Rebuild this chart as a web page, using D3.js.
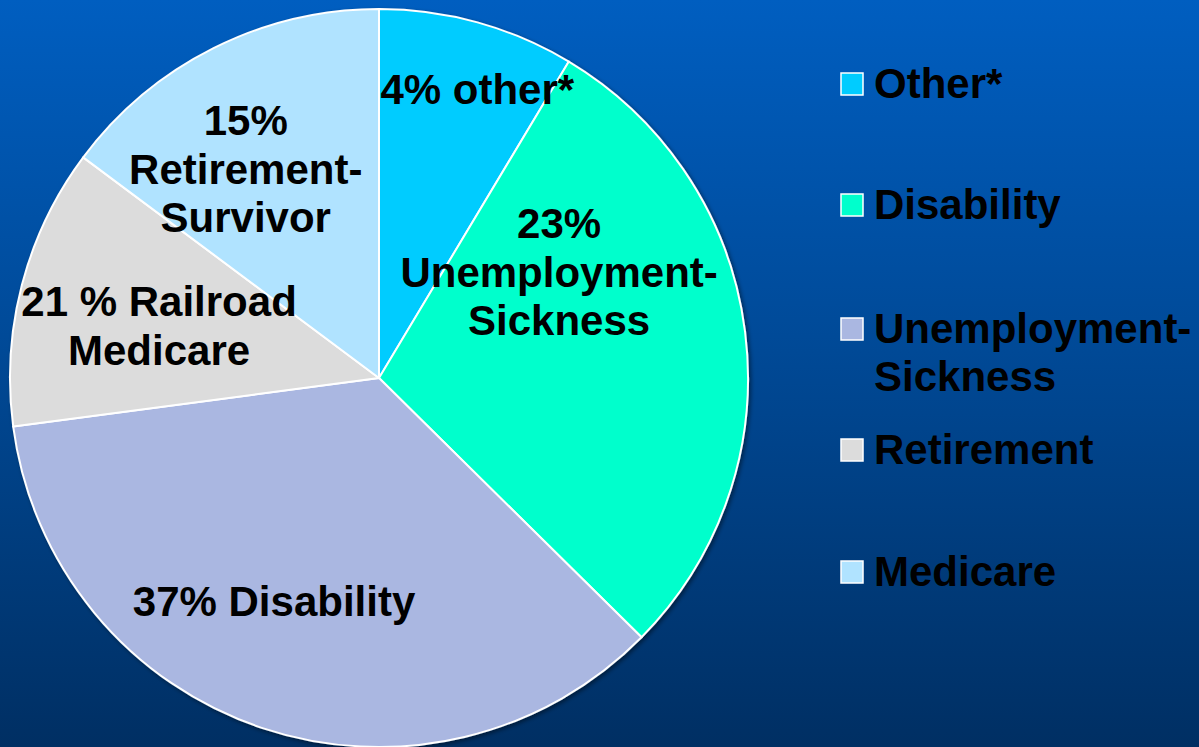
<!DOCTYPE html>
<html>
<head>
<meta charset="utf-8">
<script src="https://cdn.jsdelivr.net/npm/d3@7"></script>
<style>
  html, body { margin: 0; padding: 0; overflow: hidden; }
  svg { display: block; }
  text { font-family: "Liberation Sans", Arial, sans-serif; font-weight: bold; fill: #000; }
</style>
</head>
<body>
<svg id="chart"></svg>
<script>
// data (shares of the pie, clockwise from 12 o'clock)
const categories = ["Other*", "Disability", "Unemployment-Sickness", "Retirement", "Medicare"];
const values = [8.6, 28.8, 35.5, 12.3, 14.8];
const sliceLabels = [
  ["4% other*"],
  ["23%", "Unemployment-", "Sickness"],
  ["37% Disability"],
  ["21 % Railroad", "Medicare"],
  ["15%", "Retirement-", "Survivor"]
];
const legendLabels = [["Other*"], ["Disability"], ["Unemployment-", "Sickness"], ["Retirement"], ["Medicare"]];
const colors = ["#00CCFF", "#00FFCC", "#AAB7E1", "#DCDCDC", "#B0E3FF"];

const W = 1199, H = 747;
const cx = 379, cy = 378, radius = 369;

// where the text blocks sit: angle (deg, clockwise from top) and distance from centre
const labelPlace = [[18.8, 305], [59.5, 209], [205.2, 246.5], [283.3, 226], [327.5, 248]];
const lineH = 48.5;

const svg = d3.select("#chart").attr("width", W).attr("height", H);

const defs = svg.append("defs");
const grad = defs.append("linearGradient")
    .attr("id", "bg").attr("x1", 0).attr("y1", 0).attr("x2", 0).attr("y2", 1);
grad.append("stop").attr("offset", "0%").attr("stop-color", "#005EC0");
grad.append("stop").attr("offset", "45%").attr("stop-color", "#004A98");
grad.append("stop").attr("offset", "100%").attr("stop-color", "#002F63");

const shadow = defs.append("filter").attr("id", "shadow")
    .attr("x", "-10%").attr("y", "-10%").attr("width", "120%").attr("height", "120%");
shadow.append("feDropShadow").attr("dx", 2).attr("dy", 2).attr("stdDeviation", 2)
    .attr("flood-color", "#000").attr("flood-opacity", 0.45);

svg.append("rect").attr("width", W).attr("height", H).attr("fill", "url(#bg)");

const pie = d3.pie().sort(null).value(d => d)(values);
const arc = d3.arc().innerRadius(0).outerRadius(radius);

const g = svg.append("g").attr("transform", `translate(${cx},${cy})`);

g.append("g").attr("filter", "url(#shadow)")
  .selectAll("path")
  .data(pie)
  .enter().append("path")
    .attr("d", arc)
    .attr("fill", (d, i) => colors[i])
    .attr("stroke", "#fff")
    .attr("stroke-width", 2)
    .attr("stroke-linejoin", "round");

// labels in the slices
const labels = g.selectAll(".slice-label")
  .data(pie)
  .enter().append("text")
    .attr("class", "slice-label")
    .attr("text-anchor", "middle")
    .style("font-size", "42px")
    .attr("transform", (d, i) => {
      const a = labelPlace[i][0] * Math.PI / 180, r = labelPlace[i][1];
      return `translate(${r * Math.sin(a)},${-r * Math.cos(a)})`;
    });

labels.each(function(d, i) {
  const lines = sliceLabels[i];
  const top = -(lines.length - 1) * lineH / 2;
  d3.select(this).selectAll("tspan")
    .data(lines)
    .enter().append("tspan")
      .attr("x", 0)
      .attr("y", (t, j) => top + j * lineH)
      .attr("dy", "0.35em")
      .text(t => t);
});

// legend
const legendY = [84, 205, 329, 450, 572];
const legend = svg.append("g")
  .selectAll(".legend")
  .data(categories)
  .enter().append("g")
    .attr("class", "legend")
    .attr("transform", (d, i) => `translate(841,${legendY[i]})`);

legend.append("rect")
    .attr("x", 0).attr("y", -11)
    .attr("width", 22).attr("height", 22)
    .attr("fill", (d, i) => colors[i])
    .attr("stroke", "#fff")
    .attr("stroke-width", 1.5);

legend.append("text")
    .style("font-size", "42px")
    .each(function(d, i) {
      d3.select(this).selectAll("tspan")
        .data(legendLabels[i])
        .enter().append("tspan")
          .attr("x", 33)
          .attr("y", (t, j) => 14 + j * 48)
          .text(t => t);
    });
</script>
</body>
</html>
